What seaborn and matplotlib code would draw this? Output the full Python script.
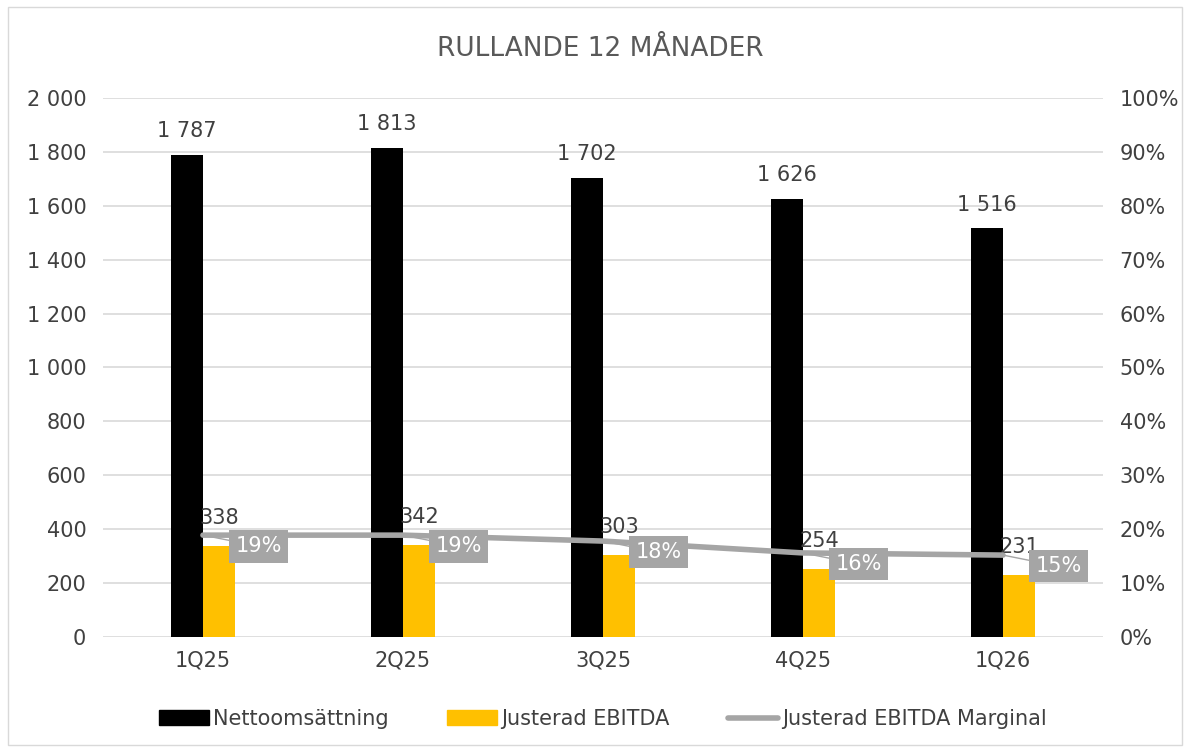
import numpy as np
import pandas as pd
import matplotlib
matplotlib.use("Agg")
import matplotlib.pyplot as plt
import seaborn as sns
from matplotlib.patches import Patch, Rectangle
from matplotlib.lines import Line2D

quarters = ["1Q25", "2Q25", "3Q25", "4Q25", "1Q26"]
nettoomsattning = [1787, 1813, 1702, 1626, 1516]
justerad_ebitda = [338, 342, 303, 254, 231]
marginal = [0.189, 0.189, 0.178, 0.156, 0.152]
yticks_left = [0, 200, 400, 600, 800, 1000, 1200, 1400, 1600, 1800, 2000]
yticks_right = [0, 0.1, 0.2, 0.3, 0.4, 0.5, 0.6, 0.7, 0.8, 0.9, 1.0]

BLACK = "#000000"
YELLOW = "#FFC000"
GREY = "#A5A5A5"
TEXT = "#404040"

sns.set_theme(style="white")
plt.rcParams["font.family"] = ["DejaVu Sans"]


def fmt(v):
    return f"{v:,.0f}".replace(",", " ")


df = pd.DataFrame({
    "kvartal": quarters * 2,
    "serie": ["Nettoomsättning"] * 5 + ["Justerad EBITDA"] * 5,
    "värde": nettoomsattning + justerad_ebitda,
})

fig = plt.figure(figsize=(11.86, 7.49), dpi=100)
ax = fig.add_axes([0.0868, 0.1495, 0.8432, 0.7197])

sns.barplot(data=df, x="kvartal", y="värde", hue="serie",
            palette=[BLACK, YELLOW], width=0.32, gap=0,
            saturation=1, linewidth=0, ax=ax, legend=False)
ax.set_ylim(0, 2000)
ax.set_xlim(-0.5, 4.5)
ax.set_yticks(yticks_left)
ax.set_yticklabels([fmt(v) for v in yticks_left])
ax.yaxis.grid(True, color="#D9D9D9", lw=1.2)
ax.set_axisbelow(True)
ax.set_xlabel("")
ax.set_ylabel("")
for s in ax.spines.values():
    s.set_visible(False)
ax.tick_params(axis="x", length=0, labelsize=15, colors=TEXT, pad=10)
ax.tick_params(axis="y", length=0, labelsize=15, colors=TEXT, pad=12)

# value labels
for c, cont in enumerate(ax.containers):
    for bar in cont:
        v = bar.get_height()
        xc = bar.get_x() + bar.get_width() / 2
        off = 10 if c == 0 else 13
        ax.annotate(fmt(v), (xc, v), xytext=(0, off),
                    textcoords="offset points", ha="center", va="bottom",
                    fontsize=15, color=TEXT)

ax2 = ax.twinx()
sns.lineplot(x=np.arange(len(quarters)), y=marginal, color=GREY,
             lw=4, ax=ax2, legend=False)
ax2.set_ylim(0, 1)
ax2.set_yticks(yticks_right)
ax2.set_yticklabels([f"{v:.0%}" for v in yticks_right])
for s in ax2.spines.values():
    s.set_visible(False)
ax2.tick_params(axis="y", length=0, labelsize=15, colors=TEXT, pad=12)
ax2.set_xlim(-0.5, 4.5)

for i, m in enumerate(marginal):
    ax2.annotate(f"{m:.0%}", (i, m), xytext=(40, -8),
                 textcoords="offset points", ha="center", va="center",
                 fontsize=15, color="white",
                 bbox=dict(boxstyle="square,pad=0.3", fc=GREY, ec="none"),
                 arrowprops=dict(arrowstyle="-", color=GREY, lw=1,
                                 shrinkA=0, shrinkB=0))

fig.text(0.506, 0.935, "RULLANDE 12 MÅNADER", ha="center", va="center",
         fontsize=19, color="#595959")

handles = [Patch(color=BLACK), Patch(color=YELLOW),
           Line2D([0], [0], color=GREY, lw=4)]
labels = ["Nettoomsättning", "Justerad EBITDA", "Justerad EBITDA Marginal"]
fig.legend(handles, labels, loc="center", bbox_to_anchor=(0.508, 0.04),
           ncol=3, frameon=False, fontsize=15, labelcolor=TEXT,
           handlelength=2.4, handletextpad=0.2, columnspacing=2.8)

fig.patches.append(Rectangle((0.007, 0.005), 0.99, 0.985, transform=fig.transFigure,
                             fill=False, ec="#D9D9D9", lw=1))

plt.savefig("out.png", dpi=100)
plt.close()
